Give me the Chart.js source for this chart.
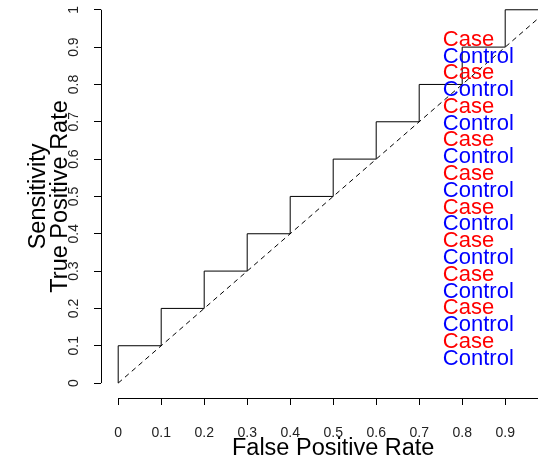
<!DOCTYPE html>
<html>
<head>
<meta charset="utf-8">
<script src="https://cdn.jsdelivr.net/npm/chart.js@4.4.0/dist/chart.umd.min.js"></script>
<style>
  html, body { margin: 0; padding: 0; background: #fff; }
  #chart { display: block; }
</style>
</head>
<body>
<canvas id="chart" width="538" height="460"></canvas>
<script>
// ROC staircase (false positive rate -> true positive rate)
const fpr = [0, 0, 0.1, 0.1, 0.2, 0.2, 0.3, 0.3, 0.4, 0.4, 0.5, 0.5, 0.6, 0.6, 0.7, 0.7, 0.8, 0.8, 0.9, 0.9, 1];
const tpr = [0, 0.1, 0.1, 0.2, 0.2, 0.3, 0.3, 0.4, 0.4, 0.5, 0.5, 0.6, 0.6, 0.7, 0.7, 0.8, 0.8, 0.9, 0.9, 1, 1];
// chance line
const chanceX = [0, 1];
const chanceY = [0, 1];

const xTicks = [0, 0.1, 0.2, 0.3, 0.4, 0.5, 0.6, 0.7, 0.8, 0.9, 1];
const xTickLabels = ['0', '0.1', '0.2', '0.3', '0.4', '0.5', '0.6', '0.7', '0.8', '0.9', '1'];
const yTicks = [0, 0.1, 0.2, 0.3, 0.4, 0.5, 0.6, 0.7, 0.8, 0.9, 1];
const yTickLabels = ['0', '0.1', '0.2', '0.3', '0.4', '0.5', '0.6', '0.7', '0.8', '0.9', '1'];

// text labels stacked on the right
const labelX = 0.755;
const caseY = [0.92, 0.83, 0.74, 0.65, 0.56, 0.47, 0.38, 0.29, 0.2, 0.11];
const controlY = [0.875, 0.785, 0.695, 0.605, 0.515, 0.425, 0.335, 0.245, 0.155, 0.065];

const xTitle = 'False Positive Rate';
const yTitle = ['Sensitivity', 'True Positive Rate'];

const FONT = '"Liberation Sans", Arial, sans-serif';

function toPoints(xs, ys) {
	return xs.map(function (v, i) { return { x: v, y: ys[i] }; });
}

// R style axes: line only from first to last tick, rotated y labels,
// titles centred on the plot region
const rDecor = {
	id: 'rDecor',
	afterDraw(chart) {
		const ctx = chart.ctx;
		const x = chart.scales.x;
		const y = chart.scales.y;
		const area = chart.chartArea;
		ctx.save();
		ctx.strokeStyle = '#000';
		ctx.lineWidth = 1;
		ctx.beginPath();
		ctx.moveTo(area.left + 0.5, y.getPixelForValue(yTicks[0]));
		ctx.lineTo(area.left + 0.5, y.getPixelForValue(yTicks[yTicks.length - 1]));
		ctx.moveTo(x.getPixelForValue(xTicks[0]), area.bottom + 0.5);
		ctx.lineTo(x.getPixelForValue(xTicks[xTicks.length - 1]), area.bottom + 0.5);
		ctx.stroke();

		// y tick labels, read bottom to top
		ctx.fillStyle = '#222';
		ctx.font = '14px ' + FONT;
		ctx.textAlign = 'center';
		ctx.textBaseline = 'middle';
		yTicks.forEach(function (v, i) {
			ctx.save();
			ctx.translate(area.left - 27, y.getPixelForValue(v));
			ctx.rotate(-Math.PI / 2);
			ctx.fillText(yTickLabels[i], 0, 0);
			ctx.restore();
		});

		ctx.fillStyle = '#000';
		ctx.font = '23.5px ' + FONT;
		ctx.textAlign = 'center';
		ctx.textBaseline = 'alphabetic';
		ctx.fillText(xTitle, x.getPixelForValue(0.5), 455);

		const cy = y.getPixelForValue(0.5);
		const baselines = [45, 67];
		yTitle.forEach(function (t, i) {
			ctx.save();
			ctx.translate(baselines[i], cy);
			ctx.rotate(-Math.PI / 2);
			ctx.fillText(t, 0, 0);
			ctx.restore();
		});

		ctx.font = '22px ' + FONT;
		ctx.textAlign = 'left';
		ctx.textBaseline = 'middle';
		const lx = x.getPixelForValue(labelX);
		caseY.forEach(function (v) {
			ctx.fillStyle = '#ff0000';
			ctx.fillText('Case', lx, y.getPixelForValue(v));
		});
		controlY.forEach(function (v) {
			ctx.fillStyle = '#0000ff';
			ctx.fillText('Control', lx, y.getPixelForValue(v));
		});
		ctx.restore();
	}
};

const ctx = document.getElementById('chart').getContext('2d');
new Chart(ctx, {
	type: 'scatter',
	data: {
		datasets: [{
			data: toPoints(fpr, tpr),
			showLine: true,
			borderColor: '#000',
			borderWidth: 1,
			pointRadius: 0,
			fill: false
		}, {
			data: toPoints(chanceX, chanceY),
			showLine: true,
			borderColor: '#000',
			borderWidth: 1,
			borderDash: [5, 4],
			pointRadius: 0,
			fill: false
		}]
	},
	options: {
		responsive: false,
		animation: false,
		events: [],
		layout: { padding: 0 },
		plugins: {
			legend: { display: false },
			tooltip: { enabled: false }
		},
		scales: {
			x: {
				type: 'linear',
				min: -0.04,
				max: 0.9763,
				afterBuildTicks: function (s) {
					s.ticks = xTicks.map(function (v) { return { value: v }; });
				},
				afterFit: function (s) {
					s.height = 62;
					s.paddingLeft = 0;
					s.paddingRight = 0;
				},
				grid: { drawOnChartArea: false, drawTicks: true, tickLength: 7, color: '#000', lineWidth: 1 },
				border: { display: false },
				ticks: {
					autoSkip: false,
					maxRotation: 0,
					padding: 20,
					color: '#222',
					font: { family: FONT, size: 14 },
					callback: function (v, i) { return xTickLabels[i]; }
				}
			},
			y: {
				type: 'linear',
				min: -0.04,
				max: 1.0262,
				afterBuildTicks: function (s) {
					s.ticks = yTicks.map(function (v) { return { value: v }; });
				},
				afterFit: function (s) {
					s.width = 101;
					s.paddingTop = 0;
					s.paddingBottom = 0;
				},
				grid: { drawOnChartArea: false, drawTicks: true, tickLength: 7, color: '#000', lineWidth: 1 },
				border: { display: false },
				ticks: { display: false }
			}
		}
	},
	plugins: [rDecor]
});
</script>
</body>
</html>
